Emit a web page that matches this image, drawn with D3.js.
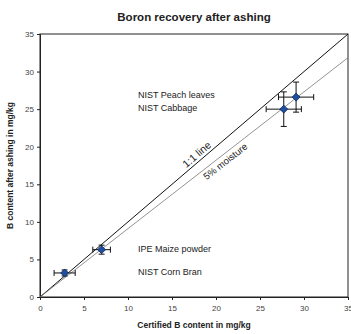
<!DOCTYPE html>
<html><head><meta charset="utf-8">
<script src="https://cdn.jsdelivr.net/npm/d3@7"></script>
<style>body{margin:0;background:#fff}svg{display:block}text{font-family:"Liberation Sans",Arial,sans-serif}</style>
</head><body><svg id="c" width="351" height="334"></svg>
<script>
const samples = ["IPE Maize powder","NIST Corn Bran","NIST Cabbage","NIST Peach leaves"];
const certified = [2.8, 7.0, 27.7, 29.1];
const certifiedErr = [1.2, 1.0, 2.0, 2.0];
const measured = [3.2, 6.3, 25.0, 26.6];
const measuredErr = [0.4, 0.6, 2.3, 2.0];
const xTicks = [0,5,10,15,20,25,30,35];
const yTicks = [0,5,10,15,20,25,30,35];
const moistureSlope = 0.91;

const svg = d3.select("#c");
const L=40,R=348,T=34,B=297;
const x = d3.scaleLinear().domain([0,35]).range([L,R]);
const y = d3.scaleLinear().domain([0,35]).range([B,T]);

svg.append("text").attr("x",(L+R)/2).attr("y",21).attr("text-anchor","middle")
  .attr("font-size",11.5).attr("font-weight","bold").attr("fill","#222").text("Boron recovery after ashing");

// frame
svg.append("rect").attr("x",L).attr("y",T).attr("width",R-L).attr("height",B-T)
  .attr("fill","none").attr("stroke","#222").attr("stroke-width",1);

const xa = svg.append("g").attr("transform",`translate(0,${B})`)
  .call(d3.axisBottom(x).tickValues(xTicks).tickSize(3).tickPadding(5));
const ya = svg.append("g").attr("transform",`translate(${L},0)`)
  .call(d3.axisLeft(y).tickValues(yTicks).tickSize(3).tickPadding(3));
[xa,ya].forEach(a=>{a.select(".domain").attr("stroke","#222");
  a.selectAll("line").attr("stroke","#222");
  a.selectAll("text").attr("font-size",8).attr("fill","#444").attr("font-family","Liberation Sans, Arial, sans-serif");});

svg.append("text").attr("x",(L+R)/2).attr("y",328).attr("text-anchor","middle")
  .attr("font-size",8.5).attr("font-weight","bold").attr("fill","#222").text("Certified B content in mg/kg");
svg.append("text").attr("transform",`translate(13,${(T+B)/2}) rotate(-90)`).attr("text-anchor","middle")
  .attr("font-size",8.5).attr("font-weight","bold").attr("fill","#222").text("B content after ashing in mg/kg");

// lines
svg.append("line").attr("x1",x(0)).attr("y1",y(0)).attr("x2",x(35)).attr("y2",y(35))
  .attr("stroke","#111").attr("stroke-width",1);
svg.append("line").attr("x1",x(0)).attr("y1",y(0)).attr("x2",x(35)).attr("y2",y(35*moistureSlope))
  .attr("stroke","#777").attr("stroke-width",0.8);

const ang1 = -Math.atan2(y(0)-y(1), x(1)-x(0))*180/Math.PI;
const ang2 = -Math.atan2(y(0)-y(moistureSlope), x(1)-x(0))*180/Math.PI;
svg.append("text").attr("transform",`translate(${x(18.3)},${y(18.3)}) rotate(${ang1})`)
  .attr("dy",-3).attr("text-anchor","middle").attr("font-size",10.5).attr("fill","#222").text("1:1 line");
svg.append("text").attr("transform",`translate(${x(20.6)},${y(20.6*moistureSlope)}) rotate(${ang2})`)
  .attr("dy",10).attr("text-anchor","middle").attr("font-size",9.5).attr("fill","#222").text("5% moisture");

// error bars
const g = svg.append("g");
certified.forEach((cx,i)=>{
  const px=x(cx), py=y(measured[i]);
  const x1=x(cx-certifiedErr[i]), x2=x(cx+certifiedErr[i]);
  const y1=y(measured[i]-measuredErr[i]), y2=y(measured[i]+measuredErr[i]);
  g.append("line").attr("x1",x1).attr("x2",x2).attr("y1",py).attr("y2",py).attr("stroke","#111");
  g.append("line").attr("x1",x1).attr("x2",x1).attr("y1",py-3).attr("y2",py+3).attr("stroke","#111");
  g.append("line").attr("x1",x2).attr("x2",x2).attr("y1",py-3).attr("y2",py+3).attr("stroke","#111");
  g.append("line").attr("x1",px).attr("x2",px).attr("y1",y1).attr("y2",y2).attr("stroke","#111");
  g.append("line").attr("x1",px-3).attr("x2",px+3).attr("y1",y1).attr("y2",y1).attr("stroke","#111");
  g.append("line").attr("x1",px-3).attr("x2",px+3).attr("y1",y2).attr("y2",y2).attr("stroke","#111");
});
const sym = d3.symbol().type(d3.symbolDiamond2).size(40);
certified.forEach((cx,i)=>{
  svg.append("path").attr("d",sym()).attr("transform",`translate(${x(cx)},${y(measured[i])})`)
    .attr("fill","#1f4fa0").attr("stroke","#0b2350").attr("stroke-width",0.8);
});

// sample labels
const lab = [[samples[3],98],[samples[2],111],[samples[0],252],[samples[1],275]];
lab.forEach(([t,yy])=>svg.append("text").attr("x",138).attr("y",yy).attr("font-size",9).attr("fill","#222").text(t));
</script></body></html>
